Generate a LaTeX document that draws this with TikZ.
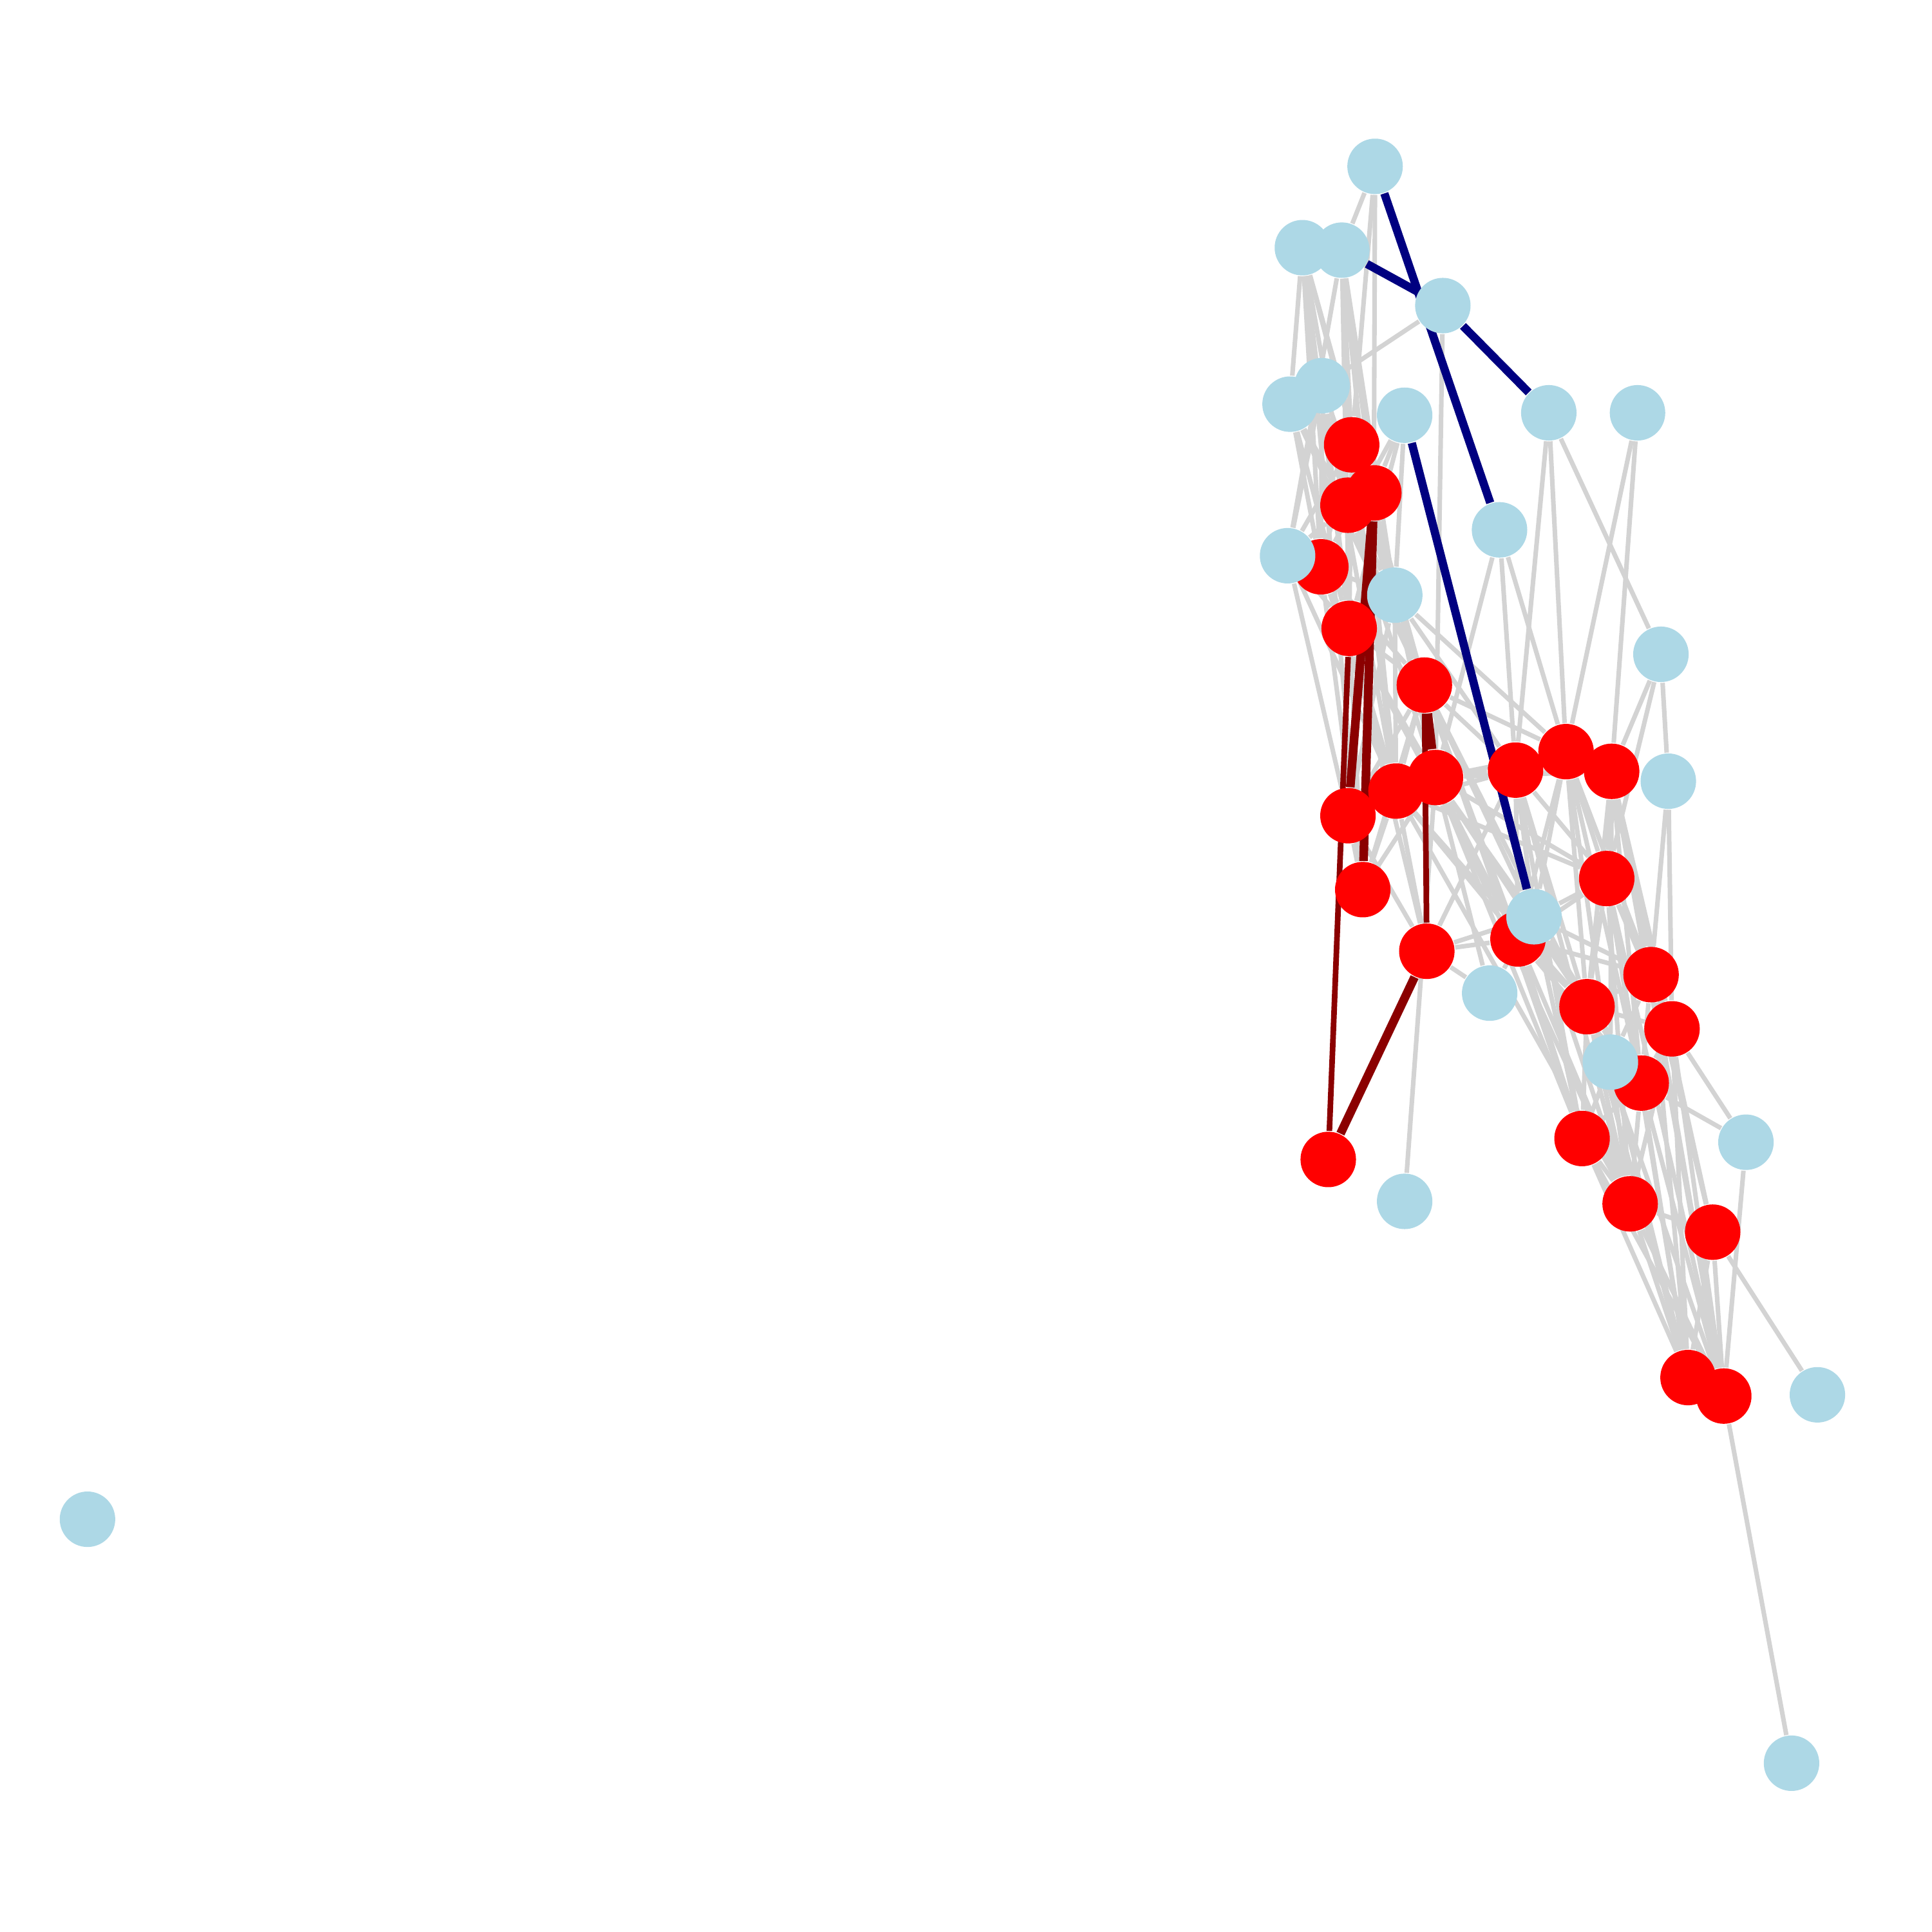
\documentclass[tikz,border=0pt]{standalone}
\usetikzlibrary{backgrounds}
\definecolor{nodeblue}{HTML}{ADD8E6}
\definecolor{edgegray}{HTML}{D3D3D3}
\definecolor{pathblue}{HTML}{000080}
\definecolor{pathred}{HTML}{8B0000}

\begin{document}
\begin{tikzpicture}[
  x=0.01cm,
  y=-0.01cm,
  vertex/.style={circle,inner sep=0pt,minimum size=0.45cm},
  hit/.style={vertex,fill=red},
  miss/.style={vertex,fill=nodeblue},
  link/.style={draw=edgegray,line width=1.05pt},
  heavylink/.style={link,line width=1.6pt},
  bluepath/.style={draw=pathblue,line width=1.9pt},
  redpath/.style={draw=pathred,line width=2.0pt},
  thinred/.style={draw=pathred,line width=1.3pt}
]
\useasboundingbox (0,0) rectangle (1568,1568);

% ---------------------------------------------------------------- red vertices
\node[hit] (r1)  at (1097,361) {};
\node[hit] (r2)  at (1115,400) {};
\node[hit] (r3)  at (1094,410) {};
\node[hit] (r4)  at (1072,460) {};
\node[hit] (r5)  at (1095,510) {};
\node[hit] (r6)  at (1156,556) {};
\node[hit] (r7)  at (1271,610) {};
\node[hit] (r8)  at (1230,625) {};
\node[hit] (r9)  at (1308,626) {};
\node[hit] (r10) at (1165,631) {};
\node[hit] (r11) at (1133,642) {};
\node[hit] (r12) at (1094,662) {};
\node[hit] (r13) at (1304,713) {};
\node[hit] (r14) at (1106,722) {};
\node[hit] (r15) at (1158,772) {};
\node[hit] (r16) at (1232,762) {};
\node[hit] (r17) at (1340,791) {};
\node[hit] (r18) at (1288,817) {};
\node[hit] (r19) at (1357,835) {};
\node[hit] (r20) at (1332,879) {};
\node[hit] (r21) at (1284,924) {};
\node[hit] (r22) at (1078,941) {};
\node[hit] (r23) at (1323,977) {};
\node[hit] (r24) at (1390,1000) {};
\node[hit] (r25) at (1370,1118) {};
\node[hit] (r26) at (1399,1133) {};

% ---------------------------------------------------------------- blue vertices
\node[miss] (b1)  at (1116,135) {};
\node[miss] (b2)  at (1057,201) {};
\node[miss] (b3)  at (1089,203) {};
\node[miss] (b4)  at (1171,248) {};
\node[miss] (b6)  at (1047,328) {};
\node[miss] (b5)  at (1073,313) {};
\node[miss] (b7)  at (1140,337) {};
\node[miss] (b8)  at (1257,335) {};
\node[miss] (b9)  at (1329,335) {};
\node[miss] (b10) at (1217,430) {};
\node[miss] (b11) at (1045,451) {};
\node[miss] (b12) at (1132,483) {};
\node[miss] (b13) at (1348,531) {};
\node[miss] (b14) at (1354,634) {};
\node[miss] (b15) at (1245,744) {};
\node[miss] (b16) at (1209,806) {};
\node[miss] (b17) at (1307,862) {};
\node[miss] (b18) at (1417,927) {};
\node[miss] (b19) at (1140,975) {};
\node[miss] (b20) at (1475,1132) {};
\node[miss] (b21) at (1454,1431) {};
\node[miss] (b22) at (71,1233) {};

\begin{pgfonlayer}{background}
% ---------------------------------------------------------------- grey links, upper cluster
\foreach \a/\b in {b1/b3,b1/r1,b1/r2,b4/b5,b4/r10,b7/b12,b7/r5,b7/r4,b7/r2,
  b2/r4,b2/r3,b2/b12,b2/r6,b2/r5,b2/b6,b2/r14,
  b3/r5,b3/r2,b3/b11,b3/r1,b3/r11,b3/b12,
  b5/r4,b5/r5,b5/b12,b5/r6,b5/r11,b5/b11,
  b6/r4,b6/r5,b6/r3,b6/b12,b6/r6,
  b11/r1,b11/r5,b11/r12,b11/r11,b11/r3,
  r1/r4,r1/b12,r1/r5,r1/r6,r1/r11,
  r3/r5,r3/r6,r3/b12,r3/r10,
  r4/r5,r4/r6,r4/b12,r4/r11,r4/r14,
  r5/b12,r5/r6,r5/r11,r5/r10,r5/r14,r5/r15,r5/r16,
  b12/r6,b12/r10,b12/r11,b12/r12,b12/r8,b12/r7,b12/r21,
  r6/r7,r6/r8,r6/r11,r6/r12,r6/r16,r6/b15,r6/r21,r6/r18}
  \draw[link] (\a) -- (\b);

% ---------------------------------------------------------------- grey links, middle
\foreach \a/\b in {r10/r7,r10/r9,r10/r13,r10/b15,r10/r16,r10/r18,r10/r21,r10/b19,
  r10/r12,r10/r23,
  r11/r12,r11/r14,r11/r13,r11/r16,r11/r18,r11/r23,r11/r15,
  r12/r15,r12/r14,r12/r8,
  r14/r6,r14/r10,
  r15/r16,r15/b15,r15/b16,r15/r8,
  b16/r10,b16/b15,
  b10/r10,b10/r8,b10/r7,
  b8/r8,b8/r7,b8/b13,b9/r7,b9/r9,
  b13/r9,b13/r13,b13/b14,b14/r17,b14/r19}
  \draw[link] (\a) -- (\b);

% ---------------------------------------------------------------- grey links, lower cluster
\foreach \a/\b in {r8/r7,r8/r9,r8/r13,r8/b15,r8/r18,r8/r21,r8/r23,r8/r16,
  r7/r9,r7/r13,r7/r18,r7/r17,r7/r20,r7/r23,r7/b15,r7/r16,r7/r19,
  r9/r13,r9/r17,r9/r19,r9/r20,r9/b17,r9/r18,r9/r26,r9/r24,
  r13/r17,r13/r18,r13/r20,r13/r23,r13/b15,r13/r16,r13/r25,r13/r26,r13/r19,
  b15/r16,b15/r18,b15/r21,b15/r23,b15/r17,b15/r20,
  r16/r21,r16/r18,r16/r17,r16/r20,r16/r23,
  r17/r18,r17/r20,r17/r26,r17/r24,r17/r25,r17/b17,
  r18/r21,r18/r23,r18/r25,r18/r26,r18/b17,r18/r20,r18/r19,
  r19/r20,r19/r26,r19/r25,r19/b18,r19/r23,
  r20/b18,r20/r21,r20/r25,r20/r26,r20/r23,
  b17/r23,b17/r25,b17/r21,
  r21/r23,r21/r25,r21/r26,
  r23/r24,r23/r25,r23/r26,
  r24/r25,r24/r26,r24/b20,
  b18/r26,r26/b21}
  \draw[link] (\a) -- (\b);
\draw[heavylink] (r10) -- (r8);

% ---------------------------------------------------------------- highlighted paths
\foreach \a/\b in {b1/b10,b3/b4,b4/b8,b7/b15}
  \draw[bluepath] (\a) -- (\b);
\foreach \a/\b in {r2/r12,r2/r14,r6/r10,r22/r15}
  \draw[redpath] (\a) -- (\b);
\draw[thinred] (r5) -- (r22);
\draw[thinred] (r6) -- (r15);
\end{pgfonlayer}

\end{tikzpicture}
\end{document}
